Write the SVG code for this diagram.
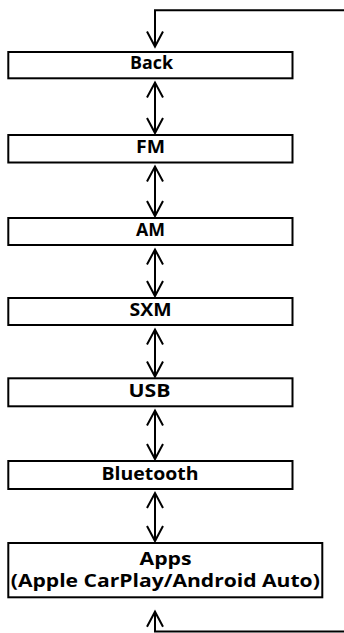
<svg xmlns="http://www.w3.org/2000/svg" width="344" height="633" viewBox="0 0 344 633">
<style>
.box{fill:#fff;stroke:#000;stroke-width:2}
.lbl{font-family:"Open Sans","DejaVu Sans",sans-serif;font-weight:bold;font-size:17.5px;fill:#000;text-anchor:middle}
.con{fill:none;stroke:#000;stroke-width:2}
</style>
<defs>
<marker id="ah" markerUnits="userSpaceOnUse" markerWidth="20" markerHeight="20" viewBox="-17 -10 20 20" refX="0" refY="0" orient="auto-start-reverse">
<path d="M-15,-8 L0,0 L-15,8" fill="none" stroke="#000" stroke-width="2"/>
</marker>
</defs>
<g id="connectors">
<path class="con" d="M344,10.3 H155 V46.5" marker-end="url(#ah)"/>
<path class="con" d="M155,82.5 V133" marker-start="url(#ah)" marker-end="url(#ah)"/>
<path class="con" d="M155,166.5 V216" marker-start="url(#ah)" marker-end="url(#ah)"/>
<path class="con" d="M155,249.5 V296" marker-start="url(#ah)" marker-end="url(#ah)"/>
<path class="con" d="M155,329.5 V376.5" marker-start="url(#ah)" marker-end="url(#ah)"/>
<path class="con" d="M155,410.5 V459" marker-start="url(#ah)" marker-end="url(#ah)"/>
<path class="con" d="M155,493 V541" marker-start="url(#ah)" marker-end="url(#ah)"/>
<path class="con" d="M344,631.5 H155 V611.7" marker-end="url(#ah)"/>
</g>
<g id="back"><rect class="box" x="8.3" y="52" width="284.2" height="26.3"/><text class="lbl" x="151.5" y="69.3" textLength="43" lengthAdjust="spacingAndGlyphs">Back</text></g>
<g id="fm"><rect class="box" x="8.3" y="135" width="284.2" height="27.5"/><text class="lbl" x="150.5" y="153" textLength="29" lengthAdjust="spacingAndGlyphs">FM</text></g>
<g id="am"><rect class="box" x="8.3" y="218" width="284.2" height="27"/><text class="lbl" x="150.5" y="236" textLength="29" lengthAdjust="spacingAndGlyphs">AM</text></g>
<g id="sxm"><rect class="box" x="8.3" y="298" width="284.2" height="27"/><text class="lbl" x="150.5" y="316" textLength="42" lengthAdjust="spacingAndGlyphs">SXM</text></g>
<g id="usb"><rect class="box" x="8.3" y="378.3" width="284.2" height="28"/><text class="lbl" x="149.5" y="396.5" textLength="42" lengthAdjust="spacingAndGlyphs">USB</text></g>
<g id="bluetooth"><rect class="box" x="8.3" y="461" width="284.2" height="28"/><text class="lbl" x="150" y="479.5" textLength="97" lengthAdjust="spacingAndGlyphs">Bluetooth</text></g>
<g id="apps"><rect class="box" x="8.3" y="543" width="314" height="54.3"/><text class="lbl" x="165.5" y="565" textLength="52" lengthAdjust="spacingAndGlyphs">Apps</text><text class="lbl" x="165.3" y="587" textLength="309" lengthAdjust="spacingAndGlyphs">(Apple CarPlay/Android Auto)</text></g>
</svg>
